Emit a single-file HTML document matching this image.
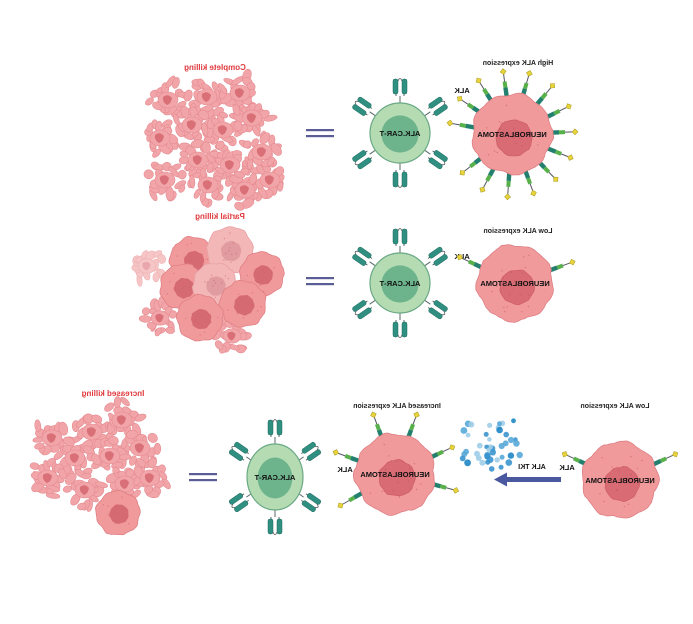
<!DOCTYPE html>
<html><head><meta charset="utf-8"><style>
html,body{margin:0;padding:0;background:#fff;width:693px;height:624px;overflow:hidden}
svg{display:block}
text{font-family:"Liberation Sans",sans-serif;font-weight:bold}
</style></head><body>
<svg id="s" width="693" height="624" xmlns="http://www.w3.org/2000/svg"></svg>
<script>
var s=document.getElementById('s'),out='';
function rnd(i){var x=Math.sin(i*12.9898+78.233)*43758.5453;return x-Math.floor(x);}
var seed=1;function R(){return rnd(seed++);}
function blob(cx,cy,r,fill,stroke,amp,n){var p='';n=n||60;var ph=R()*6;for(var i=0;i<n;i++){var a=i/n*Math.PI*2;var rr=r+amp*(Math.sin(a*9+ph)*0.6+Math.sin(a*5+ph*2)*0.4)+amp*0.5*(R()-0.5);p+=(i?'L':'M')+(cx+rr*Math.cos(a)).toFixed(1)+','+(cy+rr*Math.sin(a)).toFixed(1);}return '<path d="'+p+'Z" fill="'+fill+'" stroke="'+stroke+'" stroke-width="0.8" stroke-linejoin="round"/>';}
function cell(cx,cy,r,light){var f=light?'#f3b7b7':'#f19a9c',st=light?'#e9a2a4':'#e07f84',nf=light?'#e09ca0':'#d56a72';
var o=blob(cx,cy,r,f,st,r*0.05,60);o+=blob(cx+r*0.05,cy+r*0.05,r*0.42,nf,nf,r*0.02,30);
for(var i=0;i<10;i++){var a=R()*6.28,d=R()*r*0.8;o+='<circle cx="'+(cx+d*Math.cos(a)).toFixed(1)+'" cy="'+(cy+d*Math.sin(a)).toFixed(1)+'" r="0.7" fill="#c9606a" opacity=".5"/>';}return o;}
function debris(cx,cy,sc,light){sc=sc||1;var f=light?'#f6c6c6':'#f2a5a8',st=light?'#efb1b3':'#e48b91',d=light?'#e8a8ab':'#d97078';var o='';
for(var i=0;i<16;i++){var a=i/16*6.28+R()*0.5,r=(8+R()*11)*sc;var x=(cx+r*Math.cos(a)).toFixed(1),y=(cy+r*Math.sin(a)).toFixed(1);o+='<ellipse cx="'+x+'" cy="'+y+'" rx="'+((4+R()*3)*sc).toFixed(1)+'" ry="'+((2.5+R()*2)*sc).toFixed(1)+'" transform="rotate('+(R()*180).toFixed(0)+' '+x+' '+y+')" fill="'+f+'" stroke="'+st+'" stroke-width=".6"/>';}
o+='<ellipse cx="'+cx+'" cy="'+cy+'" rx="'+(10*sc)+'" ry="'+(8*sc)+'" fill="'+f+'" stroke="'+st+'" stroke-width=".6"/>';
o+='<path d="M'+(cx-5*sc)+','+(cy-3*sc)+'q'+(5*sc)+','+(-4*sc)+' '+(9*sc)+','+(1*sc)+'q'+(-1*sc)+','+(6*sc)+' '+(-5*sc)+','+(7*sc)+'q'+(-5*sc)+','+(-3*sc)+' '+(-4*sc)+','+(-8*sc)+'z" fill="'+d+'"/>';return o;}
function mtext(x,y,t,size,col){return '<text transform="translate('+x+','+y+') scale(-1,1)" text-anchor="middle" font-size="'+size+'" fill="'+col+'">'+t+'</text>';}
function eq(x,y){return '<rect x="'+(x-14)+'" y="'+(y-4)+'" width="28" height="2.2" fill="#5b5e96"/><rect x="'+(x-14)+'" y="'+(y+2)+'" width="28" height="2.2" fill="#5b5e96"/>';}
function car(cx,cy,r,ry){ry=ry||r;var o='';var angs=[-90,90,-145,-35,145,35];
angs.forEach(function(a){var d=(a==-90||a==90)?ry:r;var rad=a*Math.PI/180;var x=cx+d*Math.cos(rad),y=cy+d*Math.sin(rad);
o+='<g transform="translate('+x.toFixed(1)+','+y.toFixed(1)+') rotate('+(a+90)+')"><line x1="0" y1="0" x2="0" y2="-7" stroke="#5a6a68" stroke-width="1"/><path d="M-4,-7 v-3 M4,-7 v-3" stroke="#5a6a68" fill="none" stroke-width="1"/><rect x="-7" y="-24" width="5" height="15" rx="2" fill="#2f8f80" stroke="#216b60" stroke-width=".5"/><rect x="2" y="-24" width="5" height="15" rx="2" fill="#2f8f80" stroke="#216b60" stroke-width=".5"/><path d="M-2,-22 q2,-5 4,0" stroke="#555" fill="none" stroke-width=".8"/></g>';});
o+='<ellipse cx="'+cx+'" cy="'+cy+'" rx="'+r+'" ry="'+ry+'" fill="#b5dbb3" stroke="#6aa985" stroke-width="1.2"/>';
o+='<ellipse cx="'+cx+'" cy="'+(cy+1)+'" rx="'+(r*0.62)+'" ry="'+(ry*0.62)+'" fill="#6db48c"/>';
o+=mtext(cx,cy+3,'ALK.CAR-T',7.5,'#111');return o;}
function spike(cx,cy,r,a){var rad=a*Math.PI/180;var x=cx+r*Math.cos(rad),y=cy+r*Math.sin(rad);
return '<g transform="translate('+x.toFixed(1)+','+y.toFixed(1)+') rotate('+a+')"><rect x="-2" y="-2.2" width="9" height="4.4" fill="#23806e"/><rect x="7" y="-2" width="6" height="4" fill="#58b04a"/><line x1="13" y1="0" x2="21" y2="0" stroke="#556" stroke-width="1"/><path d="M20,0 l3,-3 l3,3 l-3,3z" fill="#e8d43a" stroke="#a49620" stroke-width=".5"/></g>';}
function nb(cx,cy,r,spikes){var o='';spikes.forEach(function(a){o+=spike(cx,cy,r,a);});
o+=blob(cx,cy,r,'#f19a9c','#de7f84',r*0.045,72);o+=blob(cx+2,cy+4,r*0.45,'#d86b73','#cf6069',0.8,30);
for(var i=0;i<20;i++){var a=R()*6.28,d=R()*r*0.85;o+='<circle cx="'+(cx+d*Math.cos(a)).toFixed(1)+'" cy="'+(cy+d*Math.sin(a)).toFixed(1)+'" r="0.7" fill="#b6505b" opacity=".5"/>';}
o+=mtext(cx,cy+3,'NEUROBLASTOMA',7.5,'#111');return o;}

/* Row 1 */
out+=mtext(215,70,'Complete killing',8,'#e0383c');
[[168,100],[207,97],[240,93],[160,138],[192,125],[223,130],[252,118],[165,180],[198,160],[230,165],[262,152],[208,185],[245,190],[270,180]].forEach(function(c){out+=debris(c[0],c[1],1);});
out+=eq(320,133);
out+=car(400,133,30);
out+=mtext(518,65,'High ALK expression',7,'#222');
out+=mtext(462,93,'ALK',7.5,'#111');
var sp=[];for(var i=0;i<14;i++)sp.push(-170+i*24);out+=nb(512,134,40,sp);

/* Row 2 */
out+=mtext(220,219,'Partial killing',8,'#e0383c');
out+=debris(147,266,0.9,true);out+=debris(160,318,0.9);out+=debris(232,336,0.9);
out+=cell(193,260,23);out+=cell(230,250,23,true);out+=cell(262,274,22);out+=cell(183,287,23);out+=cell(215,285,22,true);out+=cell(243,304,23);out+=cell(200,318,23);
out+=eq(320,281);
out+=car(400,283,30);
out+=mtext(518,233,'Low ALK expression',7,'#222');
out+=mtext(462,259,'ALK',7.5,'#111');
out+=nb(515,283,38,[-155,-20]);

/* Row 3 */
out+=mtext(113,396,'Increased killing',8,'#e0383c');
[[52,438],[92,432],[122,420],[75,458],[110,456],[140,448],[48,478],[85,490],[125,484],[150,478]].forEach(function(c){out+=debris(c[0],c[1],1);});
out+=cell(118,513,22);
out+=eq(203,477);
out+=car(275,477,28,33);
out+=mtext(397,408,'Increased ALK expression',7,'#222');
out+=mtext(345,472,'ALK',7.5,'#111');
out+=nb(395,474,40,[-160,-110,-70,-25,15,150]);
var bc=['#1f86c4','#58a9d8','#9fcde8','#3a95cf'];
for(var i=0;i<42;i++){var x=458+rnd(i*7+300)*62,y=420+rnd(i*11+900)*50;var c=bc[Math.floor(rnd(i*3+50)*4)];out+='<circle cx="'+x.toFixed(1)+'" cy="'+y.toFixed(1)+'" r="'+(2.2+rnd(i+77)*1.2).toFixed(1)+'" fill="'+c+'" opacity=".9"/>';}
out+='<rect x="505" y="477" width="56" height="5" fill="#4a58a0"/><path d="M494,479.5 l13,-7 v14z" fill="#4a58a0"/>';
out+=mtext(532,469,'ALK TKI',7,'#111');
out+=mtext(615,408,'Low ALK expression',7,'#222');
out+=mtext(567,470,'ALK',7.5,'#111');
out+=nb(620,480,38,[-155,-25]);
s.innerHTML=out;
</script>
</body></html>
